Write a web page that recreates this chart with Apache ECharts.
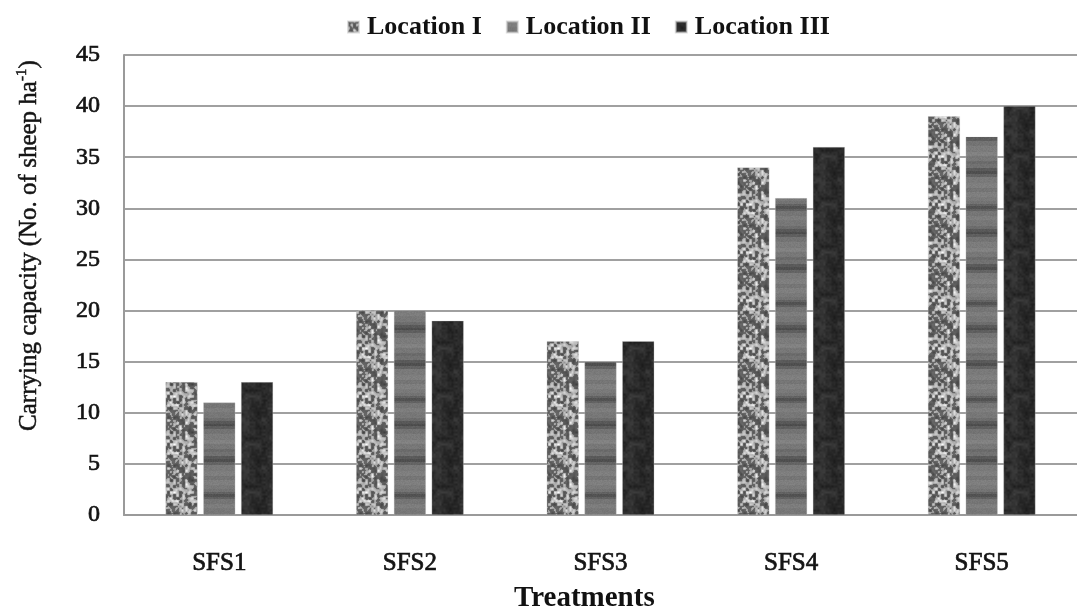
<!DOCTYPE html>
<html>
<head>
<meta charset="utf-8">
<script src="https://cdn.jsdelivr.net/npm/echarts@6/dist/echarts.min.js"></script>
<style>
html,body{margin:0;padding:0;background:#fff;}
#c{width:1077px;height:610px;}
</style>
</head>
<body>
<div id="c"></div>
<script>
const categories = ['SFS1', 'SFS2', 'SFS3', 'SFS4', 'SFS5'];
const seriesNames = ['Location I', 'Location II', 'Location III'];
const locationI = [13, 20, 17, 34, 39];
const locationII = [11, 20, 15, 31, 37];
const locationIII = [13, 19, 17, 36, 40];
const yMin = 0, yMax = 45, yStep = 5;

function hash(x, y, s) {
  let n = Math.imul(x, 374761393) + Math.imul(y, 668265263) + Math.imul(s, 1442695041);
  n = Math.imul(n ^ (n >>> 13), 1274126177);
  n = n ^ (n >>> 16);
  return (n >>> 0) / 4294967296;
}
function valueNoise(x, y, cell, s, period) {
  const gx = Math.floor(x / cell), gy = Math.floor(y / cell);
  const fx = (x % cell) / cell, fy = (y % cell) / cell;
  const P = period;
  const a = hash(gx % P, gy % P, s), b = hash((gx + 1) % P, gy % P, s);
  const c = hash(gx % P, (gy + 1) % P, s), d = hash((gx + 1) % P, (gy + 1) % P, s);
  const sx = fx * fx * (3 - 2 * fx), sy = fy * fy * (3 - 2 * fy);
  return (a * (1 - sx) + b * sx) * (1 - sy) + (c * (1 - sx) + d * sx) * sy;
}
function makeCanvas(w, h, fn) {
  const cv = document.createElement('canvas');
  cv.width = w; cv.height = h;
  const ctx = cv.getContext('2d');
  const img = ctx.createImageData(w, h);
  for (let y = 0; y < h; y++) for (let x = 0; x < w; x++) {
    const g = Math.max(0, Math.min(255, Math.round(fn(x, y))));
    const i = (y * w + x) * 4;
    img.data[i] = g; img.data[i + 1] = g; img.data[i + 2] = g; img.data[i + 3] = 255;
  }
  ctx.putImageData(img, 0, 0);
  return cv;
}
// Location I: fine mottled light/dark granite texture
const texI = makeCanvas(48, 48, (x, y) => {
  const v = valueNoise(x, y, 3, 1, 16) * 0.7 + valueNoise(x, y, 2, 7, 24) * 0.3;
  return v > 0.5 ? 150 + (v - 0.5) * 220 : 60 + v * 90;
});
// Location II: horizontal wood-like bands (segment lengths, gray levels)
const bandSegs = [[5,128],[4,122],[3,116],[2,100],[3,84],[2,98],[5,118],[4,126],[6,120],[3,110],
                  [3,90],[2,78],[3,96],[5,116],[6,124],[4,130],[5,120],[3,108],[4,114],[3,92],
                  [3,80],[3,100],[6,122],[5,128],[4,118]];
const bandRows = [];
bandSegs.forEach(s => { for (let k = 0; k < s[0]; k++) bandRows.push(s[1]); });
const texII = makeCanvas(16, bandRows.length, (x, y) => bandRows[y] - 6 + hash(x, y, 3) * 10);
// Location III: dark mottled texture
const texIII = makeCanvas(48, 48, (x, y) => {
  const v = valueNoise(x, y, 6, 11, 8) * 0.6 + valueNoise(x, y, 2, 5, 24) * 0.4;
  return 26 + v * 40;
});
const fills = [
  { image: texI, repeat: 'repeat' },
  { image: texII, repeat: 'repeat' },
  { image: texIII, repeat: 'repeat' }
];
const dataSets = [locationI, locationII, locationIII];

const serif = '"Liberation Serif", "Times New Roman", serif';
const ink = '#141414';
const chart = echarts.init(document.getElementById('c'), null, { renderer: 'canvas' });
chart.setOption({
  backgroundColor: '#ffffff',
  animation: false,
  legend: {
    top: 9,
    left: 342,
    itemWidth: 11,
    itemHeight: 11,
    itemGap: 24,
    icon: 'rect',
    textStyle: { fontFamily: serif, fontWeight: 'bold', fontSize: 26, color: '#111', padding: [0, 0, 0, 3] },
    data: seriesNames
  },
  grid: { left: 124, right: -7, top: 55, bottom: 95, containLabel: false },
  xAxis: {
    type: 'category',
    data: categories,
    axisLine: { show: true, lineStyle: { color: '#9a9a9a', width: 2 } },
    axisTick: { show: false },
    axisLabel: { margin: 36, fontFamily: serif, fontSize: 25, color: ink, textBorderColor: ink, textBorderWidth: 0.7 }
  },
  yAxis: {
    type: 'value',
    min: yMin, max: yMax, interval: yStep,
    axisLine: { show: true, lineStyle: { color: '#9a9a9a', width: 2 } },
    axisTick: { show: false },
    splitLine: { show: true, lineStyle: { color: '#a0a0a0', width: 2 } },
    axisLabel: { margin: 24, fontFamily: serif, fontSize: 24, color: ink, textBorderColor: ink, textBorderWidth: 0.7 }
  },
  series: seriesNames.map((n, i) => ({
    name: n,
    type: 'bar',
    data: dataSets[i],
    barWidth: 32,
    barGap: '18%',
    itemStyle: { color: fills[i], borderColor: 'rgba(200,200,200,0.6)', borderWidth: 0.5 }
  })),
  graphic: [
    {
      type: 'text',
      left: 14, top: 60,
      rotation: Math.PI / 2,
      style: {
        text: '{m|Carrying capacity (No. of sheep ha}{s|-1}{m|)}',
        rich: {
          m: { fontFamily: serif, fontSize: 25, fill: ink, stroke: ink, lineWidth: 0.5, verticalAlign: 'bottom', lineHeight: 28 },
          s: { fontFamily: serif, fontSize: 15, fill: ink, stroke: ink, lineWidth: 0.5, verticalAlign: 'top', lineHeight: 28 }
        }
      }
    },
    {
      type: 'text',
      left: 514, top: 584,
      style: { text: 'Treatments', fontFamily: serif, fontSize: 29, fontWeight: 'bold', fill: '#111' }
    }
  ]
});
</script>
</body>
</html>
